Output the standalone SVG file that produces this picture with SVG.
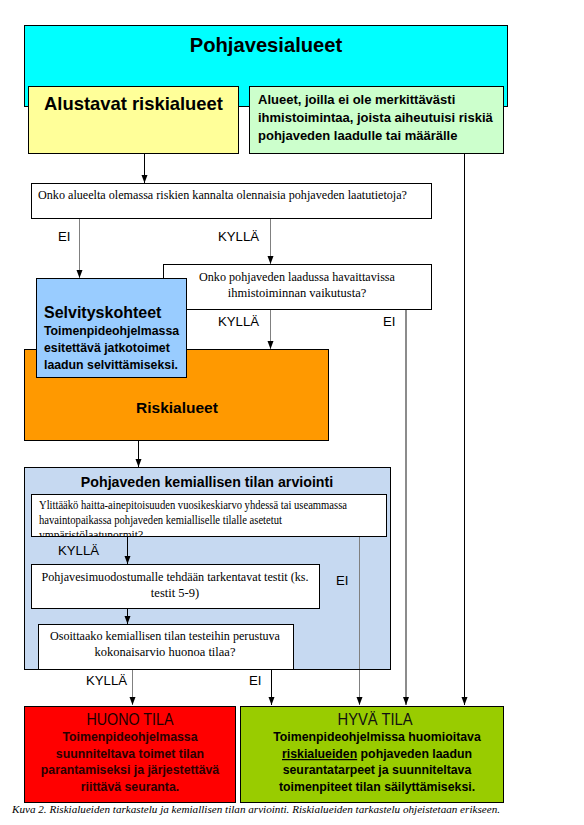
<svg xmlns="http://www.w3.org/2000/svg" width="584" height="825" viewBox="0 0 584 825">
<style>
.box{stroke:#000;stroke-width:1}
.sans{font-family:"Liberation Sans",Arial,sans-serif}
.serif{font-family:"Liberation Serif","Times New Roman",serif;font-size:12.5px;fill:#000}
.b{font-weight:bold}
.lbl{font-family:"Liberation Sans",Arial,sans-serif;font-size:13.2px;fill:#000}
.blk{stroke:#000;stroke-width:1;fill:none}
.gry{stroke:#808080;stroke-width:1;fill:none}
.gry2{stroke:#8c8c8c;stroke-width:2;fill:none}
</style>
<defs>
<marker id="ah" viewBox="0 0 8 8" refX="8" refY="4" markerWidth="8" markerHeight="8" markerUnits="userSpaceOnUse" orient="auto">
<path d="M0,1 L8,4 L0,7 Z" fill="#000"/>
</marker>
<clipPath id="cq3"><rect x="31" y="494" width="355" height="42"/></clipPath>
</defs>
<rect width="584" height="825" fill="#fff"/>

<g id="pohjavesialueet">
<rect class="box" x="24.5" y="25.5" width="483" height="81" fill="#00FFFF"/>
<text class="sans b" x="266" y="52" font-size="20.2" text-anchor="middle">Pohjavesialueet</text>
</g>

<g id="alustavat">
<rect class="box" x="28.5" y="86.5" width="210" height="67" fill="#FFFF99"/>
<text class="sans b" x="133.5" y="110" font-size="18.4" text-anchor="middle">Alustavat riskialueet</text>
</g>

<g id="alueet-ei">
<rect class="box" x="249.5" y="86.5" width="254" height="67" fill="#CCFFCC"/>
<text class="sans b" x="258" y="104" font-size="13">Alueet, joilla ei ole merkittävästi</text>
<text class="sans b" x="258" y="122" font-size="13">ihmistoimintaa, joista aiheutuisi riskiä</text>
<text class="sans b" x="258" y="140" font-size="13">pohjaveden laadulle tai määrälle</text>
</g>

<g id="connectors">
<line class="blk" x1="144.5" y1="153" x2="144.5" y2="183" marker-end="url(#ah)"/>
<line class="blk" x1="464.5" y1="153" x2="464.5" y2="705" marker-end="url(#ah)"/>
<line class="gry" x1="79.5" y1="218" x2="79.5" y2="278" marker-end="url(#ah)"/>
<line class="gry" x1="270.5" y1="218" x2="270.5" y2="264" marker-end="url(#ah)"/>
<line class="gry" x1="270.5" y1="309" x2="270.5" y2="349" marker-end="url(#ah)"/>
<line class="gry2" x1="406" y1="309" x2="406" y2="705" marker-end="url(#ah)"/>
<line class="blk" x1="138.5" y1="440" x2="138.5" y2="467" marker-end="url(#ah)"/>
<line class="gry" x1="132.5" y1="669" x2="132.5" y2="705" marker-end="url(#ah)"/>
<line class="blk" x1="271.5" y1="669" x2="271.5" y2="705" marker-end="url(#ah)"/>
<line class="gry" x1="359.5" y1="536" x2="359.5" y2="705" marker-end="url(#ah)"/>
</g>

<g id="q1">
<rect class="box" x="31.5" y="183.5" width="400" height="35" fill="#fff"/>
<text class="serif" x="38" y="199" textLength="369" lengthAdjust="spacingAndGlyphs" style="font-size:13px">Onko alueelta olemassa riskien kannalta olennaisia pohjaveden laatutietoja?</text>
</g>

<g id="labels1">
<text class="lbl" x="58" y="241">EI</text>
<text class="lbl" x="218" y="241">KYLLÄ</text>
<text class="lbl" x="218" y="326">KYLLÄ</text>
<text class="lbl" x="383" y="326">EI</text>
</g>

<g id="q2">
<rect class="box" x="163.5" y="264.5" width="268" height="45" fill="#fff"/>
<text class="serif" x="297" y="281" text-anchor="middle" textLength="196" lengthAdjust="spacingAndGlyphs">Onko pohjaveden laadussa havaittavissa</text>
<text class="serif" x="297" y="297" text-anchor="middle">ihmistoiminnan vaikutusta?</text>
</g>

<g id="riskialueet">
<rect class="box" x="24.5" y="349.5" width="304" height="91" fill="#FF9900"/>
<text class="sans b" x="177" y="413" font-size="15.5" text-anchor="middle">Riskialueet</text>
</g>

<g id="selvityskohteet">
<rect class="box" x="36.5" y="278.5" width="150" height="99" fill="#99CCFF"/>
<text class="sans b" x="44" y="318" font-size="16">Selvityskohteet</text>
<text class="sans b" x="44" y="335" font-size="12.3">Toimenpideohjelmassa</text>
<text class="sans b" x="44" y="352" font-size="12.3">esitettävä jatkotoimet</text>
<text class="sans b" x="44" y="369" font-size="12.3">laadun selvittämiseksi.</text>
</g>

<g id="kemiallinen">
<rect class="box" x="24.5" y="467.5" width="366" height="202" fill="#C6D9F1"/>
<text class="sans b" x="207" y="487" font-size="14.2" text-anchor="middle">Pohjaveden kemiallisen tilan arviointi</text>
<line class="blk" x1="127.5" y1="536" x2="127.5" y2="564" marker-end="url(#ah)"/>
<line class="blk" x1="127.5" y1="608" x2="127.5" y2="624" marker-end="url(#ah)"/>
<line class="gry" x1="359.5" y1="536" x2="359.5" y2="669"/>
<text class="lbl" x="58" y="555">KYLLÄ</text>
<text class="lbl" x="336" y="585">EI</text>
</g>

<g id="q3">
<rect class="box" x="31.5" y="494.5" width="355" height="42" fill="#fff"/>
<g clip-path="url(#cq3)">
<text class="serif" x="39" y="509" textLength="308" lengthAdjust="spacingAndGlyphs" style="font-size:11.5px">Ylittääkö haitta-ainepitoisuuden vuosikeskiarvo yhdessä tai useammassa</text>
<text class="serif" x="39" y="524" textLength="243" lengthAdjust="spacingAndGlyphs" style="font-size:11.5px">havaintopaikassa pohjaveden kemialliselle tilalle asetetut</text>
<text class="serif" x="39" y="539" style="font-size:11.5px">ympäristölaatunormit?</text>
</g>
</g>

<g id="q4">
<rect class="box" x="31.5" y="564.5" width="288" height="44" fill="#fff"/>
<text class="serif" x="175" y="581" text-anchor="middle" textLength="267" lengthAdjust="spacingAndGlyphs">Pohjavesimuodostumalle tehdään tarkentavat testit (ks.</text>
<text class="serif" x="175" y="597" text-anchor="middle">testit 5-9)</text>
</g>

<g id="q5">
<rect class="box" x="38.5" y="624.5" width="255" height="45" fill="#fff"/>
<text class="serif" x="165" y="640" text-anchor="middle" textLength="230" lengthAdjust="spacingAndGlyphs">Osoittaako kemiallisen tilan testeihin perustuva</text>
<text class="serif" x="165" y="656" text-anchor="middle">kokonaisarvio huonoa tilaa?</text>
</g>

<g id="labels2">
<text class="lbl" x="86" y="685">KYLLÄ</text>
<text class="lbl" x="249" y="685">EI</text>
</g>

<g id="huono">
<rect class="box" x="24.5" y="706.5" width="211" height="96" fill="#FF0000"/>
<text class="sans" x="130" y="725" font-size="16.5" text-anchor="middle" fill="#1a0000" textLength="87" lengthAdjust="spacingAndGlyphs">HUONO TILA</text>
<text class="sans b" x="130" y="741" font-size="12.3" text-anchor="middle" fill="#2a0000">Toimenpideohjelmassa</text>
<text class="sans b" x="130" y="758" font-size="12.3" text-anchor="middle" fill="#2a0000">suunniteltava toimet tilan</text>
<text class="sans b" x="130" y="774" font-size="12.3" text-anchor="middle" fill="#2a0000">parantamiseksi ja järjestettävä</text>
<text class="sans b" x="130" y="791" font-size="12.3" text-anchor="middle" fill="#2a0000">riittävä seuranta.</text>
</g>

<g id="hyva">
<rect class="box" x="240.5" y="706.5" width="263" height="96" fill="#99CC00"/>
<text class="sans" x="375" y="725" font-size="16.5" text-anchor="middle" fill="#111" textLength="75" lengthAdjust="spacingAndGlyphs">HYVÄ TILA</text>
<text class="sans b" x="377" y="741" font-size="12.3" text-anchor="middle">Toimenpideohjelmissa huomioitava</text>
<text class="sans b" x="377" y="758" font-size="12.3" text-anchor="middle"><tspan text-decoration="underline">riskialueiden</tspan> pohjaveden laadun</text>
<text class="sans b" x="377" y="774" font-size="12.3" text-anchor="middle">seurantatarpeet ja suunniteltava</text>
<text class="sans b" x="377" y="791" font-size="12.3" text-anchor="middle">toimenpiteet tilan säilyttämiseksi.</text>
</g>

<g id="caption">
<text x="12" y="813" font-family="Liberation Serif, Times New Roman, serif" font-style="italic" font-size="10.5" textLength="488" lengthAdjust="spacingAndGlyphs">Kuva 2. Riskialueiden tarkastelu ja kemiallisen tilan arviointi. Riskialueiden tarkastelu ohjeistetaan erikseen.</text>
</g>
</svg>
